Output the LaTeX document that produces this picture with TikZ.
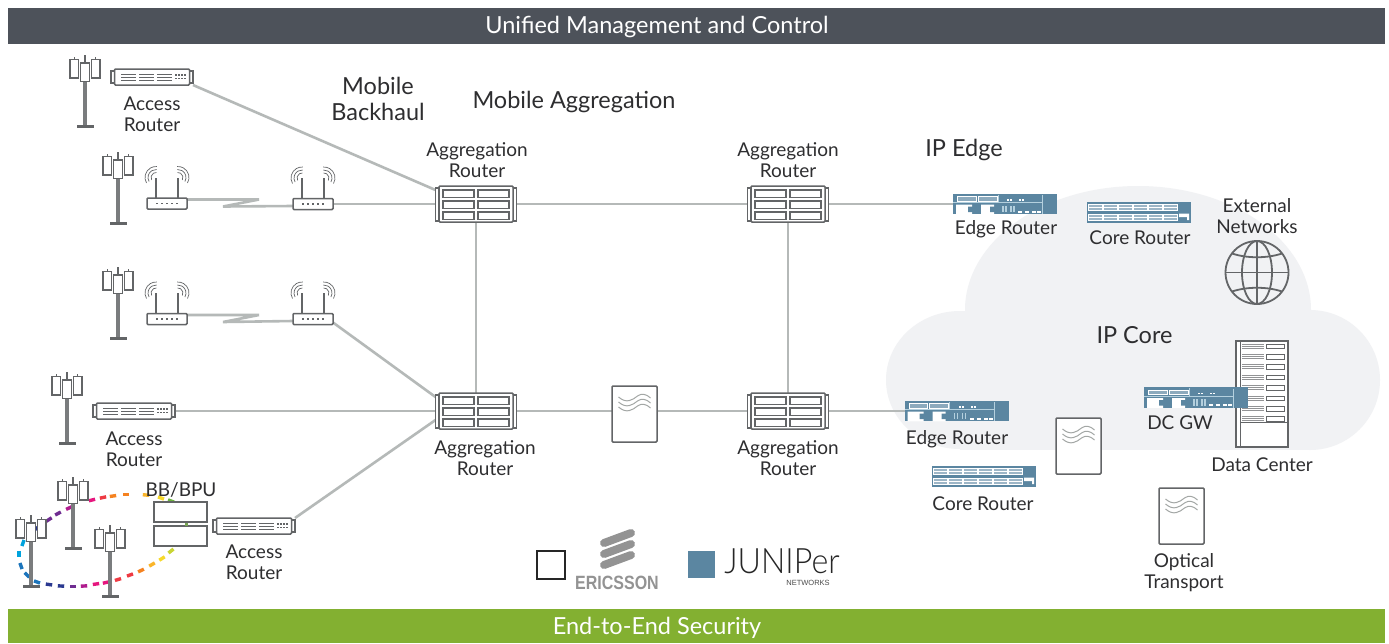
\documentclass[tikz,border=0pt]{standalone}
\usepackage{fontspec}
\setmainfont{Lato}
\newfontfamily\ericfont{Liberation Sans}
\newfontfamily\junfont[UprightFont=* Light]{Lato}
\usetikzlibrary{calc}
\definecolor{hdr}{HTML}{4D525A}
\definecolor{ftr}{HTML}{83B031}
\definecolor{cloudc}{HTML}{F1F2F4}
\definecolor{linkc}{HTML}{B5B9B8}
\definecolor{dev}{HTML}{636567}
\definecolor{teal}{HTML}{5B86A1}
\definecolor{txt}{HTML}{2E2E30}
\definecolor{lightl}{HTML}{B4D0DE}
\definecolor{dgreen}{HTML}{6DB33F}
\definecolor{dlime}{HTML}{C9D534}
\definecolor{dyellow}{HTML}{F6D92B}
\definecolor{dgold}{HTML}{FAB52A}
\definecolor{dorange}{HTML}{F58220}
\definecolor{dred}{HTML}{EE3A43}
\definecolor{dpink}{HTML}{E6167E}
\definecolor{dmag}{HTML}{B01C8E}
\definecolor{dpurp}{HTML}{6F2C91}
\definecolor{dnavy}{HTML}{2B3990}
\definecolor{dblue}{HTML}{1C75BC}
\definecolor{dcyan}{HTML}{00A3DD}
\tikzset{
 x=1pt,y=-1pt,
 lbl/.style={text=txt,align=center,inner sep=0pt,font=\fontsize{19}{21}\selectfont},
 big/.style={text=txt,align=center,inner sep=0pt,font=\fontsize{23.5}{26}\selectfont},
 bar/.style={text=white,inner sep=0pt,font=\fontsize{23.5}{26}\selectfont},
 anch/.style={inner sep=0pt,outer sep=0pt,minimum width=#1},
 link/.style={draw=linkc,line width=2.6pt},
 devl/.style={draw=dev,line width=1.5pt},
 dash1/.style={line width=3.4pt},
 towerpic/.pic={
  \draw[dev,line width=1.4pt] (0,0)--(0,8) (-10.5,2)--(-10.5,6) (10.5,2)--(10.5,6);
  \draw[devl,fill=white] (-15,4.5) rectangle (-6.5,23);
  \draw[devl,fill=white] (6.5,4.5) rectangle (15,23);
  \draw[devl,fill=white] (-4.5,8) rectangle (4.5,26.5);
  \fill[dev!85] (-1.8,26.5) rectangle (1.8,70);
  \fill[dev] (-8.5,69.5) rectangle (8.5,73);
 },
 accesspic/.pic={
  \draw[devl,fill=white] (-41,-6) rectangle (-37,6);
  \draw[devl,fill=white] (37,-6) rectangle (41,6);
  \draw[devl,fill=white,rounded corners=1pt] (-37.5,-8) rectangle (37.5,8);
  \foreach \a in {-31,-13,5}{\foreach \b in {-3,0,3}{\draw[dev,line width=.8pt] (\a,\b)--(\a+15,\b);}}
  \foreach \a in {24,27,30,33}{\foreach \b in {-2,1.5}{\fill[dev] (\a-.6,\b-.6) rectangle (\a+.6,\b+.6);}}
 },
 wifipic/.pic={
  \draw[dev,line width=1.2pt] (-11,-5)--(-11,-26) (11,-5)--(11,-26);
  \foreach \r in {5,8,11}{
   \draw[dev,line width=.7pt] (-11,-26) ++(150:\r) arc (150:275:\r);
   \draw[dev,line width=.7pt] (11,-26) ++(30:\r) arc (30:-95:\r);
  }
  \draw[devl,fill=white,rounded corners=1pt] (-20,-5.5) rectangle (20,5.5);
  \foreach \a in {-10,-5,0,5,10}{\fill[dev] (\a-1,-.8) rectangle (\a+1,.8);}
 },
 aggpic/.pic={
  \draw[devl,fill=white] (-40.5,-16) rectangle (-37,17);
  \draw[devl,fill=white] (37,-16) rectangle (40.5,17);
  \draw[devl,fill=white,rounded corners=1pt] (-37,-18) rectangle (37,18);
  \foreach \a in {-33,2}{\foreach \b in {-14,-3,8}{\draw[dev,line width=1.2pt] (\a,\b) rectangle (\a+31,\b+7.5);}}
 },
 optpic/.pic={
  \draw[devl,fill=white,rounded corners=1pt] (-22.5,-28) rectangle (22.5,28);
  \foreach \d in {0,5,10}{\draw[linkc!90!black,line width=1pt] (-16,-17+\d) .. controls (-8,-10+\d) and (-2,-14+\d) .. (3,-18+\d) .. controls (7,-21+\d) and (12,-20+\d) .. (16,-16+\d);}
 },
 edgepic/.pic={
  \fill[teal] (-52,-10.25) rectangle (52,10.25);
  \draw[white,line width=.7pt,fill=teal!70!white] (-47.5,-7.5) rectangle (-29,-3);
  \draw[white,line width=.7pt,fill=teal!70!white] (-27,-7.5) rectangle (-8,-3);
  \draw[lightl,line width=1pt] (-52,-1.5)--(38,-1.5) (-7,-9.5)--(-7,-1.5) (37.5,-9)--(37.5,10);
  \fill[white] (-49,.5) rectangle (-33,10.25) (-24,.5) rectangle (-11,10.25);
  \fill[teal] (-37,2.5) rectangle (-32,8) (-15,2.5) rectangle (-10,8);
  \foreach \a in {2,5,14,17}{\fill[white] (\a,-4.8) rectangle (\a+2,-3.2);}
  \foreach \a in {-3,0,5,8}{\fill[lightl] (\a,1.5) rectangle (\a+1.8,8);}
  \foreach \a in {14,21,28,33}{\fill[white] (\a-1,6.5) rectangle (\a+3,8.5);}
 },
 corepic/.pic={
  \fill[teal] (-52,-10.5) rectangle (52,10.5);
  \foreach \a in {0,...,5}{\foreach \b in {-8,1.5}{
   \draw[white,line width=.6pt,fill=teal!60!white] (-50.5+\a*15,\b) rectangle (-37+\a*15,\b+6);
   \draw[white,line width=.5pt] (-50.5+\a*15,\b+3)--(-37+\a*15,\b+3);}}
  \fill[white] (40,1) rectangle (50,4.5) (48,4.5) rectangle (50,7.5);
 },
}
\begin{document}
\begin{tikzpicture}
\useasboundingbox (0,0) rectangle (1389,643);
\fill[white] (0,0) rectangle (1389,643);
% cloud
\fill[cloudc] (1138,310) ellipse [x radius=173,y radius=124];
\fill[cloudc] (1310,380) circle [radius=70];
\fill[cloudc] (960,380) ellipse [x radius=74,y radius=69];
\fill[cloudc] (960,360) rectangle (1310,449.5);
% bands
\fill[hdr] (8,8) rectangle (1385,44);
\fill[ftr] (8,609) rectangle (1385,643);
\node[bar] (hd) at (657,27) {Unified Management and Control};
\node[bar] (ft) at (657,628) {End-to-End Security};
% anchors
\node[anch=81pt,minimum height=36pt] (ag1) at (476,204) {};
\node[anch=81pt,minimum height=36pt] (ag2) at (788,204) {};
\node[anch=81pt,minimum height=36pt] (ag3) at (476,411) {};
\node[anch=81pt,minimum height=36pt] (ag4) at (788,411) {};
\node[anch=82pt,minimum height=16pt] (ac1) at (152,77) {};
\node[anch=82pt,minimum height=16pt] (ac2) at (134,411) {};
\node[anch=82pt,minimum height=16pt] (ac3) at (254,526) {};
\node[anch=40pt,minimum height=11pt] (w1) at (167,203.5) {};
\node[anch=40pt,minimum height=11pt] (w2) at (313,204) {};
\node[anch=40pt,minimum height=11pt] (w3) at (167,319) {};
\node[anch=40pt,minimum height=11pt] (w4) at (313,319) {};
\node[anch=45pt,minimum height=56pt] (op1) at (634.5,414) {};
\node[anch=45pt,minimum height=56pt] (op2) at (1078.5,446) {};
\node[anch=45pt,minimum height=56pt] (op3) at (1181.5,516) {};
\node[anch=104pt,minimum height=20pt] (ed1) at (1005,204) {};
\node[anch=104pt,minimum height=20pt] (ed2) at (956.5,411) {};
\node[anch=104pt,minimum height=20pt] (dc) at (1196,397.5) {};
\node[anch=104pt,minimum height=21pt] (co1) at (1139,212.5) {};
\node[anch=104pt,minimum height=21pt] (co2) at (984,476.5) {};
% links
\draw[link] (ac1.south east) -- ([yshift=-4pt]ag1.north west);
\draw[link] ([yshift=4pt]w1.east) -- ++(72,0) -- ++(-36,7) -- ([yshift=-2pt]w2.west);
\draw[link] ([yshift=4pt]w3.east) -- ++(72,0) -- ++(-36,7) -- ([yshift=-2pt]w4.west);
\draw[link] (w2.east) -- (ag1.west);
\draw[link] ([yshift=2pt]w4.south east) -- ([yshift=-4pt]ag3.north west);
\draw[link] (ac2.east) -- (ag3.west);
\draw[link] (ac3.north east) -- ([yshift=9pt]ag3.south west);
\draw[link] (ag1.east) -- (ag2.west);
\draw[link] (ag2.east) -- (ed1.west);
\draw[link] (ag1.south) -- (ag3.north);
\draw[link] (ag2.south) -- (ag4.north);
\draw[link] (ag3.east) -- ([yshift=3pt]op1.west);
\draw[link] ([yshift=3pt]op1.east) -- (ag4.west);
\draw[link] (ag4.east) -- (ed2.west);
% devices
\foreach \n in {ag1,ag2,ag3,ag4}{\pic at (\n) {aggpic};}
\foreach \n in {ac1,ac2,ac3}{\pic at (\n) {accesspic};}
\foreach \n in {w1,w2,w3,w4}{\pic at (\n) {wifipic};}
\foreach \n in {op1,op2,op3}{\pic at (\n) {optpic};}
\pic at (85,55) {towerpic};
\pic at (118,152) {towerpic};
\pic at (118,267) {towerpic};
\pic at (67,372) {towerpic};
% coloured dashes (under the ring's towers)
\foreach \x/\y/\a/\c in {
 171/501/20/dgreen,161/498/20/dyellow,146/495/5/dgold,126/494.5/0/dorange,113/496/-8/dorange,103/497.5/-12/dred,92/500/-14/dpink,69/508/-25/dmag,58/513.5/-28/dpurp,49/519.5/-33/dpurp,37/528/-35/dnavy,
 23/543/-70/dcyan,19/554/-90/dcyan,21/566/70/dblue,27/575/45/dblue,37/582/20/dblue,49/584.5/8/dnavy,61/586/3/dnavy,73/586.5/0/dpurp,84/586/-4/dmag,96/584/-8/dpink,106/582.5/-12/dpink,118/579.5/-17/dred,130/575/-20/dred,141/570.5/-25/dorange,152/564.5/-30/dgold,162/558.5/-32/dyellow,171/551/-38/dlime}{
 \draw[dash1,color=\c] (\x,\y) ++(\a:3.2) -- ++(\a+180:6.4);
}
\pic at (31,515) {towerpic};
\pic at (73,477) {towerpic};
\pic at (110,525) {towerpic};
% data center rack
\draw[devl,fill=white] (1236,341) rectangle (1288,447);
\draw[dev,line width=.8pt] (1240,341)--(1240,447);
\foreach \i in {0,...,7}{
 \draw[dev!70,line width=.8pt] (1242,{344+\i*10.4}) -- (1264,{344+\i*10.4}) (1242,{346+\i*10.4}) -- (1264,{346+\i*10.4}) (1242,{348+\i*10.4}) -- (1264,{348+\i*10.4});
 \draw[dev,line width=.8pt] (1266,{344+\i*10.4}) rectangle (1284,{348.5+\i*10.4});
}
\draw[dev,line width=.8pt] (1240,422)--(1288,422);
\pic at (ed1) {edgepic};
\pic at (ed2) {edgepic};
\pic at (dc) {edgepic};
\pic at (co1) {corepic};
\pic at (co2) {corepic};
% BB/BPU
\node[draw=dev,line width=1.5pt,fill=white,minimum width=53pt,minimum height=20pt,inner sep=0pt] (bb1) at (180.5,512) {};
\node[draw=dev,line width=1.5pt,fill=white,minimum width=53pt,minimum height=20pt,inner sep=0pt] (bb2) at (180.5,536) {};
\fill[ftr!70!teal] (184.5,523) rectangle (187.5,525.5);
% text
\node[lbl] (t1) at (152,114) {Access\\Router};
\node[lbl] (t2) at (134,449) {Access\\Router};
\node[lbl] (t3) at (254,562.5) {Access\\Router};
\node[lbl] (t4) at (181,490) {BB/BPU};
\node[big] (t5) at (378,99) {Mobile\\Backhaul};
\node[big] (t6) at (574,102) {Mobile Aggregation};
\node[big] (t7) at (964,150) {IP Edge};
\node[big] (t8) at (1134.5,335) {IP Core};
\node[lbl] (t9) at (477,160.5) {Aggregation\\Router};
\node[lbl] (t10) at (788,160.5) {Aggregation\\Router};
\node[lbl] (t11) at (485,458) {Aggregation\\Router};
\node[lbl] (t12) at (788,458) {Aggregation\\Router};
\node[lbl] (t13) at (1006,229) {Edge Router};
\node[lbl] (t14) at (1140,237.5) {Core Router};
\node[lbl] (t15) at (1257,216) {External\\Networks};
\node[lbl] (t16) at (957,439) {Edge Router};
\node[lbl] (t17) at (983,503.5) {Core Router};
\node[lbl] (t18) at (1180,422.5) {DC GW};
\node[lbl] (t19) at (1262,464.5) {Data Center};
\node[lbl] (t20) at (1184,572.5) {Optical\\Transport};
% globe
\begin{scope}[shift={(1257,272.5)},dev,line width=1.8pt]
 \draw (0,0) circle [radius=31.5];
 \draw (0,0) ellipse [x radius=15,y radius=31.5];
 \draw (0,-31.5)--(0,31.5) (-31.5,0)--(31.5,0);
 \draw (-25,-19) .. controls (-10,-14) and (10,-14) .. (25,-19);
 \draw (-25,19) .. controls (-10,14) and (10,14) .. (25,19);
\end{scope}
% logos
\node[draw=black!85,line width=2pt,fill=white,minimum size=28pt,inner sep=0pt] (sq1) at (550.5,565) {};
\node[fill=teal,minimum size=27pt,inner sep=0pt] (sq2) at (701.5,564.5) {};
\draw[gray!85,line width=8pt,line cap=round] (604,543)--(631,533) (604,554)--(631,544) (604,565)--(631,555);
\node[inner sep=0pt,text=gray!85] (er) at (617,583) {\scalebox{1}[1.2]{\ericfont\bfseries\fontsize{16}{18}\selectfont ERICSSON}};
\node[inner sep=0pt,text=black!85] (ju) at (782,561) {\scalebox{.92}[1]{\junfont\fontsize{35}{38}\selectfont JUNIPer}};
\node[inner sep=0pt,text=black!70] (nw) at (808,583) {\ericfont\fontsize{7.5}{9}\selectfont NETWORKS};
\end{tikzpicture}
\end{document}
